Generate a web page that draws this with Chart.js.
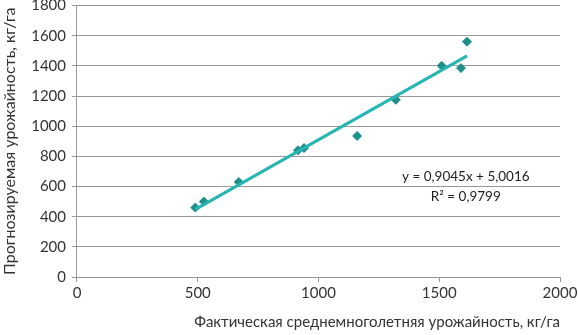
<!DOCTYPE html>
<html>
<head>
<meta charset="utf-8">
<script src="https://cdn.jsdelivr.net/npm/chart.js@4"></script>
<style>
  html, body { margin: 0; padding: 0; background: #fff; }
  #wrap { width: 578px; height: 335px; }
</style>
</head>
<body>
<div id="wrap"><canvas id="yield-chart"></canvas></div>
<script>
const actualYield = [490, 525, 670, 915, 940, 1160, 1320, 1510, 1590, 1615];
const forecastYield = [460, 500, 630, 840, 855, 935, 1175, 1400, 1385, 1560];
const slope = 0.9045;
const intercept = 5.0016;
const eqText = 'y = 0,9045x + 5,0016';
const r2Text = 'R² = 0,9799';
const xTitle = 'Фактическая среднемноголетняя урожайность, кг/га';
const yTitle = 'Прогнозируемая урожайность, кг/га';

const points = actualYield.map((x, i) => ({ x: x, y: forecastYield[i] }));
const xMin = Math.min(...actualYield);
const xMax = Math.max(...actualYield);
const trend = [
  { x: xMin, y: slope * xMin + intercept },
  { x: xMax, y: slope * xMax + intercept }
];

const fontFamily = 'Lato, "Open Sans", sans-serif';

const eqLabel = {
  id: 'eqLabel',
  afterDatasetsDraw(chart) {
    const c = chart.ctx;
    const sx = chart.scales.x, sy = chart.scales.y;
    c.save();
    c.fillStyle = '#222';
    c.font = '13.5px ' + fontFamily;
    c.textAlign = 'center';
    c.textBaseline = 'middle';
    const cx = sx.getPixelForValue(1610);
    c.fillText(eqText, cx, sy.getPixelForValue(665));
    c.fillText(r2Text, cx, sy.getPixelForValue(535));
    c.restore();
  }
};

const ctx = document.getElementById('yield-chart');
const myChart = new Chart(ctx, {
  type: 'scatter',
  data: {
    datasets: [{
      label: 'data',
      data: points,
      pointStyle: 'rectRot',
      pointRadius: 4.5,
      pointBackgroundColor: '#1f8f8c',
      pointBorderColor: '#1f8f8c',
      order: 1
    }, {
      label: 'trend',
      type: 'line',
      data: trend,
      borderColor: '#27b5b3',
      borderWidth: 3,
      pointRadius: 0,
      fill: false,
      order: 0
    }]
  },
  options: {
    responsive: true,
    maintainAspectRatio: false,
    animation: false,
    layout: { padding: 0 },
    plugins: {
      legend: { display: false },
      tooltip: { enabled: false }
    },
    scales: {
      x: {
        type: 'linear',
        min: 0,
        max: 2000,
        afterFit: s => { s.paddingRight = 18; },
        border: { color: '#999' },
        grid: { drawOnChartArea: false, tickLength: 5, color: '#999' },
        ticks: { stepSize: 500, color: '#333', font: { family: fontFamily, size: 15 }, padding: 2, callback: v => String(v) },
        title: { display: true, align: 'end', text: xTitle, color: '#333', font: { family: fontFamily, size: 15 }, padding: { top: 9 } }
      },
      y: {
        min: 0,
        max: 1800,
        afterFit: s => { s.paddingTop = 5; },
        border: { color: '#999' },
        grid: { color: '#999', tickLength: 5 },
        ticks: { stepSize: 200, color: '#333', font: { family: fontFamily, size: 15 }, padding: 6, callback: v => String(v) },
        title: { display: true, text: yTitle, color: '#333', font: { family: fontFamily, size: 16 }, padding: { top: 0, bottom: 6 } }
      }
    }
  },
  plugins: [eqLabel]
});
</script>
</body>
</html>
